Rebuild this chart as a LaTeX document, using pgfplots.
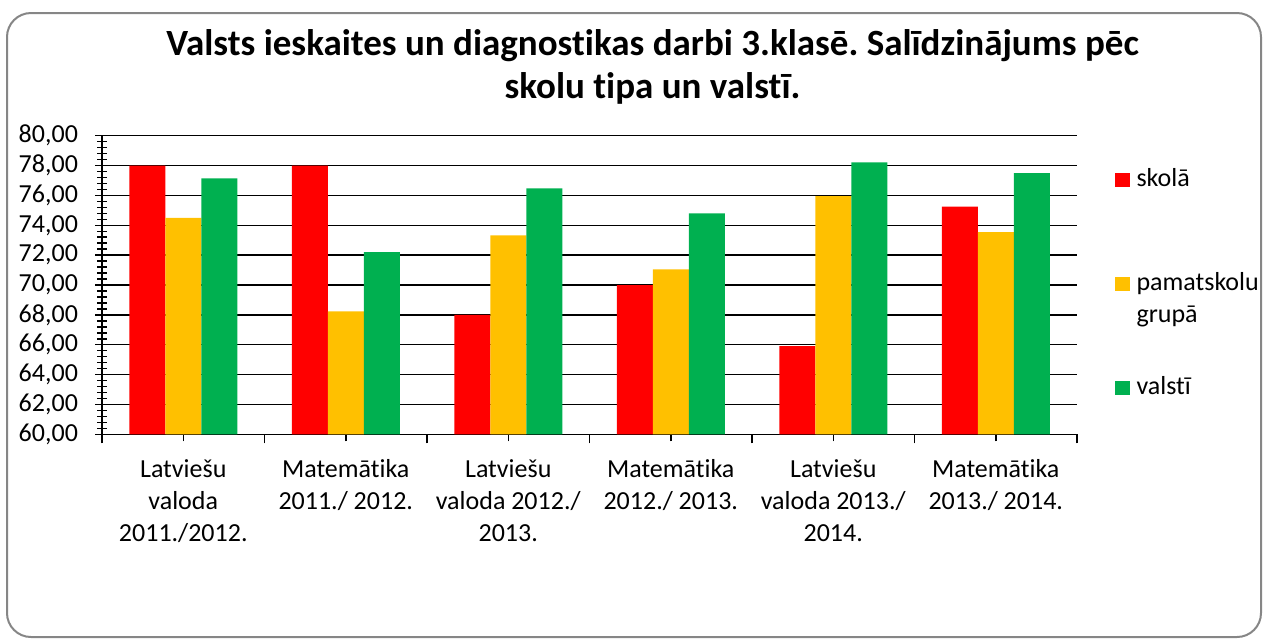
\documentclass[border=0pt]{standalone}
\usepackage{fontspec}
\setmainfont{Carlito}[RawFeature={-liga;-clig;-calt;-dlig}]
\usepackage{pgfplots}
\pgfplotsset{compat=1.18}
\definecolor{cred}{HTML}{FF0000}
\definecolor{cyellow}{HTML}{FFC000}
\definecolor{cgreen}{HTML}{00B050}
\definecolor{cframe}{HTML}{868686}
\frenchspacing
\begin{document}
\begin{tikzpicture}[x=1pt,y=1pt]
\draw[cframe, line width=1pt, rounded corners=12pt] (3.5,-6.5) rectangle (630.5,-318.5);
\begin{axis}[
  at={(51pt,-217.15pt)}, anchor=south west,
  scale only axis, width=487.5pt, height=149.3pt,
  xmin=-0.5, xmax=5.5, ymin=60, ymax=80,
  ybar=0pt, bar width=18pt,
  axis x line=bottom, axis y line=left,
  axis line style={-, black, line width=0.75pt},
  xtick={0,...,5},
  xticklabels={
    {Latviešu\\valoda\\2011./2012.},
    {Matemātika\\2011./ 2012.},
    {Latviešu\\valoda 2012./\\2013.},
    {Matemātika\\2012./ 2013.},
    {Latviešu\\valoda 2013./\\2014.},
    {Matemātika\\2013./ 2014.}},
  extra x ticks={-0.5,0.5,1.5,2.5,3.5,4.5,5.5},
  extra x tick labels={},
  extra x tick style={tick align=outside, major tick length=4.5pt, grid=none},
  ytick={60,62,...,80},
  minor y tick num=4,
  ymajorgrids,
  major grid style={black, line width=0.75pt},
  tick align=center, major tick length=7pt, minor tick length=5pt,
  every tick/.style={black, line width=0.75pt},
  yticklabel style={font=\fontsize{13}{16}\selectfont, xshift=-5pt,
    /pgf/number format/fixed, /pgf/number format/fixed zerofill,
    /pgf/number format/precision=2, /pgf/number format/use comma,
    /pgf/number format/assume math mode=true},
  xticklabel style={align=center, font=\fontsize{13}{16}\selectfont, yshift=-5.5pt},
  title={Valsts ieskaites un diagnostikas darbi 3.klasē. Salīdzinājums pēc\\skolu tipa un valstī.},
  title style={at={(0.5646,1.317)}, anchor=north, align=center,
    font=\fontsize{18.5}{21.5}\selectfont\bfseries, inner sep=0pt},
  legend cell align=left,
  legend image code/.code={\fill[#1] (0pt,-3.6pt) rectangle (7.25pt,3.6pt);},
  legend style={at={(1.039,0.907)}, anchor=north west, draw=none, fill=none,
    inner sep=0pt, row sep=36pt,
    nodes={inner xsep=3.3pt, inner ysep=0pt, text height=11.2pt, text depth=4.8pt,
      font=\fontsize{13}{16}\selectfont}},
]
\addplot[fill=cred, draw=none] coordinates {(0,78.0) (1,78.0) (2,68.0) (3,70.0) (4,65.9) (5,75.25)};
\addplot[fill=cyellow, draw=none] coordinates {(0,74.5) (1,68.24) (2,73.33) (3,71.05) (4,75.96) (5,73.55)};
\addplot[fill=cgreen, draw=none] coordinates {(0,77.15) (1,72.2) (2,76.48) (3,74.8) (4,78.22) (5,77.5)};
\legend{skolā, {\begin{tabular}[t]{@{}l@{}}pamatskolu\\grupā\end{tabular}}, valstī}
\end{axis}
\pgfresetboundingbox
\path[use as bounding box] (0,0) rectangle (631.5,-319.5);
\end{tikzpicture}
\end{document}
